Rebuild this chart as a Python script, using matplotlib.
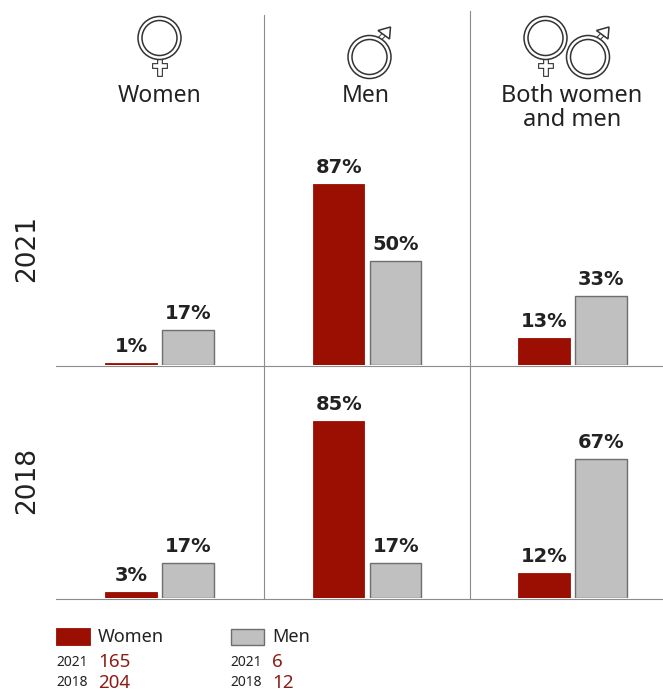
import matplotlib
matplotlib.use("Agg")
import matplotlib.pyplot as plt
import numpy as np
from matplotlib.patches import Circle, Rectangle, Polygon

W, H = 663, 692
groups = ["Women", "Men", "Both women\nand men"]
years = ["2021", "2018"]
women_2021 = [1, 87, 13]
men_2021 = [17, 50, 33]
women_2018 = [3, 85, 12]
men_2018 = [17, 17, 67]
count_women = [165, 204]
count_men = [6, 12]

RED = "#9b0f02"
GREY = "#c0c0c0"
EDGE = "#6e6e6e"
LINE = "#8c8c8c"
INK = "#222222"
COUNT = "#8c1c14"
FONT = ["Noto Sans", "DejaVu Sans"]
plt.rcParams["font.family"] = FONT

fig = plt.figure(figsize=(W / 100, H / 100), dpi=100)

# overlay in pixel coordinates for decoration
ov = fig.add_axes([0, 0, 1, 1], zorder=3)
ov.set_xlim(0, W)
ov.set_ylim(H, 0)
ov.axis("off")
ov.patch.set_alpha(0)

def panel(base_px, women, men):
    px_per_pct = 2.08
    top = 120
    ax = fig.add_axes([56 / W, 1 - base_px / H, (W - 56) / W, top * px_per_pct / H], zorder=2)
    ax.patch.set_alpha(0)
    x = np.array([0, 1.006, 2])
    bw, off = 0.248, 0.138
    ax.bar(x - off, women, bw, color=RED, edgecolor=RED, linewidth=0.6)
    ax.bar(x + off, men, bw, color=GREY, edgecolor=EDGE, linewidth=1.0)
    for xi, w, m in zip(x, women, men):
        ax.annotate(f"{w}%", (xi - off, w), xytext=(0, 7), textcoords="offset pixels",
                    ha="center", va="bottom", fontsize=14, fontweight="bold",
                    family="DejaVu Sans", color=INK)
        ax.annotate(f"{m}%", (xi + off, m), xytext=(0, 7), textcoords="offset pixels",
                    ha="center", va="bottom", fontsize=14, fontweight="bold",
                    family="DejaVu Sans", color=INK)
    ax.set_xlim(-0.501, 2.438)
    ax.set_ylim(0, top)
    ax.axis("off")
    return ax

panel(365, women_2021, men_2021)
panel(598, women_2018, men_2018)

# rules
ov.plot([56, 663], [365.5, 365.5], color=LINE, lw=0.8)
ov.plot([56, 663], [598.5, 598.5], color=LINE, lw=0.8)
ov.plot([264, 264], [15, 598], color=LINE, lw=0.8)
ov.plot([469.5, 469.5], [11, 598], color=LINE, lw=0.8)

# gender symbols
DARK = "#333333"
def ring(cx, cy, r=21.5):
    ov.add_patch(Circle((cx, cy), r, fc="white", ec=DARK, lw=1.1, zorder=4))
    ov.add_patch(Circle((cx, cy), r - 4, fc="white", ec=DARK, lw=1.1, zorder=4))

def female(cx, cy):
    seg = [([cx, cx], [cy + 21, cy + 36]), ([cx - 5, cx + 5], [cy + 28, cy + 28])]
    for xs, ys in seg:
        ov.plot(xs, ys, color=DARK, lw=4.2, solid_capstyle="projecting", zorder=3)
    for xs, ys in seg:
        ov.plot(xs, ys, color="white", lw=2.6, solid_capstyle="projecting", zorder=3.1)
    ring(cx, cy)

def male(cx, cy):
    x0, y0 = cx + 10, cy - 18
    x1, y1 = cx + 16, cy - 24
    ov.plot([x0, x1], [y0, y1], color=DARK, lw=3.6, solid_capstyle="butt", zorder=3)
    ov.plot([x0, x1], [y0, y1], color="white", lw=2.2, solid_capstyle="butt", zorder=3.1)
    tip = (cx + 21, cy - 30)
    ov.add_patch(Polygon([tip, (cx + 8.5, cy - 26.5), (cx + 20, cy - 18)], closed=True,
                         fc="white", ec=DARK, lw=1.1, zorder=3.2))
    ring(cx, cy)

female(159.5, 38)
male(369.5, 57)
female(545.5, 38)
male(588, 57)

# column headers
ov.text(159.5, 95.5, groups[0], ha="center", va="center", fontsize=16.5, color=INK)
ov.text(366, 95.5, groups[1], ha="center", va="center", fontsize=16.5, color=INK)
ov.text(572, 108, groups[2], ha="center", va="center", fontsize=17, color=INK, linespacing=0.95)

# row headers
ov.text(27, 249, years[0], rotation=90, ha="center", va="center", fontsize=19,
        family="DejaVu Sans", color=INK)
ov.text(27, 481, years[1], rotation=90, ha="center", va="center", fontsize=19,
        family="DejaVu Sans", color=INK)

# legend
ov.add_patch(Rectangle((56, 628), 34, 17, fc=RED, ec=RED, lw=0.6))
ov.add_patch(Rectangle((230.5, 628.5), 33.5, 16.5, fc=GREY, ec=EDGE, lw=1.0))
ov.text(98, 637, "Women", ha="left", va="center", fontsize=13, color=INK)
ov.text(272, 637, "Men", ha="left", va="center", fontsize=13, color=INK)
for y, yr, cw, cm in zip([662, 683], years, count_women, count_men):
    ov.text(56, y, yr, ha="left", va="center", fontsize=10, color=INK)
    ov.text(230, y, yr, ha="left", va="center", fontsize=10, color=INK)
    ov.text(98, y, str(cw), ha="left", va="center", fontsize=13.5, color=COUNT)
    ov.text(272, y, str(cm), ha="left", va="center", fontsize=13.5, color=COUNT)

fig.savefig("out.png", dpi=100)
